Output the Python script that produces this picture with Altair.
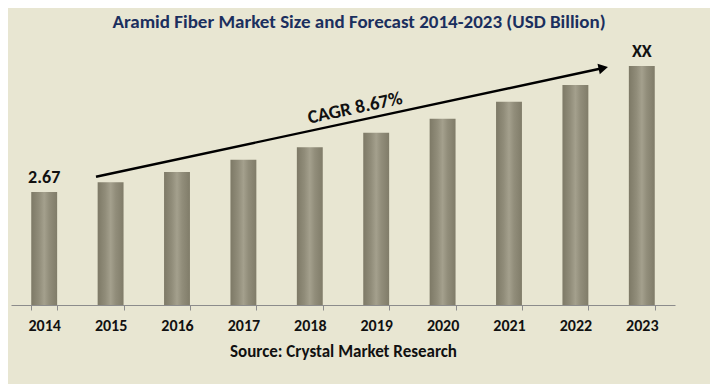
import altair as alt
import pandas as pd

years = ["2014", "2015", "2016", "2017", "2018", "2019", "2020", "2021", "2022", "2023"]
values = [2.67, 2.90, 3.14, 3.43, 3.73, 4.07, 4.40, 4.80, 5.20, 5.65]
labels = ["2.67", "", "", "", "", "", "", "", "", "XX"]

# CAGR arrow annotation in data units (x = position on a 0-10 year-slot axis, y = value)
arrow_x = [1.28, 8.92]
arrow_y = [3.03, 5.60]
cagr_text = "CAGR 8.67%"
cagr_x = [5.18]
cagr_y = [4.66]

FONT = "Carlito, Liberation Sans Narrow, Lato, sans-serif"

df = pd.DataFrame({"year": years, "value": values, "label": labels})
arrow_df = pd.DataFrame({"x": arrow_x, "y": arrow_y})
head_df = pd.DataFrame({"x": [arrow_x[1]], "y": [arrow_y[1]]})
cagr_df = pd.DataFrame({"x": cagr_x, "y": cagr_y, "t": [cagr_text]})

W, H = 664, 270
ymax = 6.38

yscale = alt.Scale(domain=[0, ymax], nice=False, zero=True)
xband = alt.Scale(paddingInner=0.61, paddingOuter=0.305)

grad = alt.Gradient(
    gradient="linear",
    stops=[
        alt.GradientStop(color="#7d7966", offset=0),
        alt.GradientStop(color="#918d7a", offset=0.3),
        alt.GradientStop(color="#a4a08d", offset=0.5),
        alt.GradientStop(color="#918d7a", offset=0.7),
        alt.GradientStop(color="#807c69", offset=1),
    ],
    x1=0, x2=1, y1=0, y2=0,
)

bars = alt.Chart(df).mark_bar(color=grad).encode(
    x=alt.X("year:N", scale=xband, sort=years,
            axis=alt.Axis(title="Source: Crystal Market Research", labelAngle=0,
                          tickBand="extent", domainColor="#8c8c8c", tickColor="#8c8c8c",
                          tickSize=5, labelFont=FONT, labelFontSize=16, labelFontWeight="bold",
                          labelColor="#111111", labelPadding=7,
                          titleFont=FONT, titleFontSize=17, titleFontWeight="bold",
                          titleColor="#111111", titlePadding=10, grid=False)),
    y=alt.Y("value:Q", scale=yscale, axis=None),
)

text = alt.Chart(df).mark_text(dy=-14, font=FONT, fontSize=18, fontWeight="bold",
                               color="#111111").encode(
    x=alt.X("year:N", scale=xband, sort=years, axis=None),
    y=alt.Y("value:Q", scale=yscale, axis=None),
    text="label:N",
)

xq = alt.Scale(domain=[0, 10], nice=False, zero=False)

line = alt.Chart(arrow_df).mark_line(color="#000000", strokeWidth=2.4).encode(
    x=alt.X("x:Q", scale=xq, axis=None),
    y=alt.Y("y:Q", scale=yscale, axis=None),
)

head = alt.Chart(head_df).mark_point(shape="triangle-right", filled=True, color="#000000",
                                     size=120, angle=348, opacity=1).encode(
    x=alt.X("x:Q", scale=xq, axis=None),
    y=alt.Y("y:Q", scale=yscale, axis=None),
)

cagr = alt.Chart(cagr_df).mark_text(angle=348, font=FONT, fontSize=19, fontWeight="bold",
                                    color="#111111").encode(
    x=alt.X("x:Q", scale=xq, axis=None),
    y=alt.Y("y:Q", scale=yscale, axis=None),
    text="t:N",
)

chart = alt.layer(bars, text, line, head, cagr).resolve_scale(x="independent").properties(
    width=W, height=H,
    title=alt.TitleParams("Aramid Fiber Market Size and Forecast 2014-2023 (USD Billion)",
                          font=FONT, fontSize=19, fontWeight="bold", color="#1b2f5e",
                          anchor="middle", offset=3, dx=16),
    autosize=alt.AutoSizeParams(type="none"),
    padding={"left": 3, "top": 27, "right": 35, "bottom": 79},
    background="#e8e6d2",
).configure_view(stroke=None)

chart.save("out.html", embed_options={"renderer": "svg", "actions": False})
